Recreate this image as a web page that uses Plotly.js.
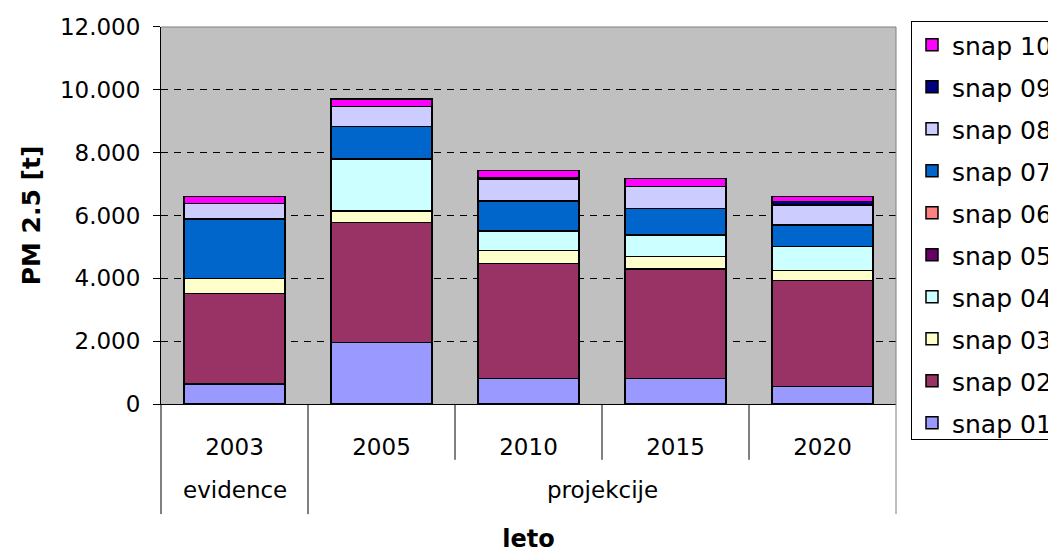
<!DOCTYPE html>
<html>
<head>
<meta charset="utf-8">
<script src="https://cdn.plot.ly/plotly-3.0.1.min.js"></script>
<style>html,body{margin:0;padding:0;background:#fff;}#chart{width:1048px;height:553px;}</style>
</head>
<body>
<div id="chart"></div>
<script>
// ---- data ----
var years = ["2003", "2005", "2010", "2015", "2020"];
var groups = ["evidence", "projekcije", "projekcije", "projekcije", "projekcije"];
var seriesNames = ["snap 01", "snap 02", "snap 03", "snap 04", "snap 05", "snap 06", "snap 07", "snap 08", "snap 09", "snap 10"];
var snap01 = [630, 1950, 805, 805, 550];
var snap02 = [2895, 3825, 3675, 3485, 3375];
var snap03 = [465, 370, 400, 400, 320];
var snap04 = [0, 1655, 630, 690, 765];
var snap05 = [0, 0, 0, 0, 0];
var snap06 = [0, 0, 0, 0, 0];
var snap07 = [1900, 1030, 955, 840, 680];
var snap08 = [500, 640, 700, 700, 645];
var snap09 = [0, 0, 40, 0, 105];
var snap10 = [210, 245, 225, 255, 160];
var seriesValues = [snap01, snap02, snap03, snap04, snap05, snap06, snap07, snap08, snap09, snap10];
var seriesColors = ["#9999FF", "#993366", "#FFFFCC", "#CCFFFF", "#660066", "#FF8080", "#0066CC", "#CCCCFF", "#000080", "#FF00FF"];
var yTicks = [0, 2000, 4000, 6000, 8000, 10000, 12000];

var FONT = "DejaVu Sans, Verdana, sans-serif";

var traces = seriesNames.map(function (name, i) {
  return {
    type: "bar",
    name: name,
    legendgroup: name,
    legendrank: 1000 - i,
    x: years,
    y: seriesValues[i],
    marker: { color: seriesColors[i], line: { color: "#000000", width: 1.5 } },
    hoverinfo: "name+y"
  };
});

// category boundary lines below the axis
var shapes = [];
for (var i = 1; i < years.length; i++) {
  var isGroupBoundary = groups[i] !== groups[i - 1];
  shapes.push({
    type: "line", xref: "x", yref: "y domain",
    x0: i - 0.5, x1: i - 0.5, y0: 0, y1: isGroupBoundary ? -0.292 : -0.148,
    line: { color: "#000000", width: 1 }
  });
}
// outer edges
[0, 1].forEach(function (px) {
  shapes.push({
    type: "line", xref: "x domain", yref: "y domain",
    x0: px, x1: px, y0: 0, y1: -0.292,
    line: { color: px === 0 ? "#000000" : "#808080", width: 1 }
  });
});
// plot area border (top & right)
shapes.push({ type: "line", xref: "x domain", yref: "y domain", x0: 0, x1: 1, y0: 1, y1: 1, line: { color: "#808080", width: 1 } });
shapes.push({ type: "line", xref: "x domain", yref: "y domain", x0: 1, x1: 1, y0: 0, y1: 1, line: { color: "#808080", width: 1 } });

// group labels
var annotations = [];
var uniq = [];
groups.forEach(function (g) { if (uniq.indexOf(g) < 0) uniq.push(g); });
uniq.forEach(function (g) {
  var idx = [];
  groups.forEach(function (gg, k) { if (gg === g) idx.push(k); });
  var mid = (idx[0] + idx[idx.length - 1]) / 2;
  annotations.push({
    text: g, xref: "x", yref: "y domain", x: mid, y: -0.228,
    yanchor: "middle", showarrow: false,
    font: { family: FONT, size: 23, color: "#000000" }
  });
});

var layout = {
  width: 1048, height: 553,
  margin: { l: 161, r: 152, t: 21, b: 113, autoexpand: false },
  paper_bgcolor: "#FFFFFF",
  plot_bgcolor: "#C0C0C0",
  barmode: "stack",
  bargap: 0.315,
  separators: ",.",
  font: { family: FONT, size: 23, color: "#000000" },
  showlegend: true,
  legend: {
    x: 1.0204, xanchor: "left", y: 1, yanchor: "top",
    bgcolor: "#FFFFFF", bordercolor: "#000000", borderwidth: 1,
    font: { family: FONT, size: 25, color: "#000000" },
    traceorder: "grouped",
    tracegroupgap: 6.5
  },
  xaxis: {
    type: "category",
    categoryorder: "array", categoryarray: years,
    showline: true, linecolor: "#000000", linewidth: 1,
    ticks: "", showgrid: false, zeroline: false,
    tickfont: { family: FONT, size: 23, color: "#000000" },
    ticklabelstandoff: 22,
    title: { text: "<b>leto</b>", font: { family: FONT, size: 24, color: "#000000" }, standoff: 80 }
  },
  yaxis: {
    domain: [0.0859, 0.9857],
    range: [0, 12000],
    tickvals: yTicks,
    tickformat: ",d",
    showline: true, linecolor: "#000000", linewidth: 1,
    ticks: "outside", ticklen: 7, tickcolor: "#000000", tickwidth: 1,
    showgrid: true, gridcolor: "#000000", gridwidth: 1, griddash: "7px,6px",
    zeroline: false,
    tickfont: { family: FONT, size: 23, color: "#000000" },
    ticklabelstandoff: 8,
    title: { text: "<b>PM 2.5 [t]</b>", font: { family: FONT, size: 25, color: "#000000" }, standoff: 12 }
  },
  shapes: shapes,
  annotations: annotations
};

Plotly.newPlot("chart", traces, layout, { displayModeBar: false, staticPlot: true });
</script>
</body>
</html>
